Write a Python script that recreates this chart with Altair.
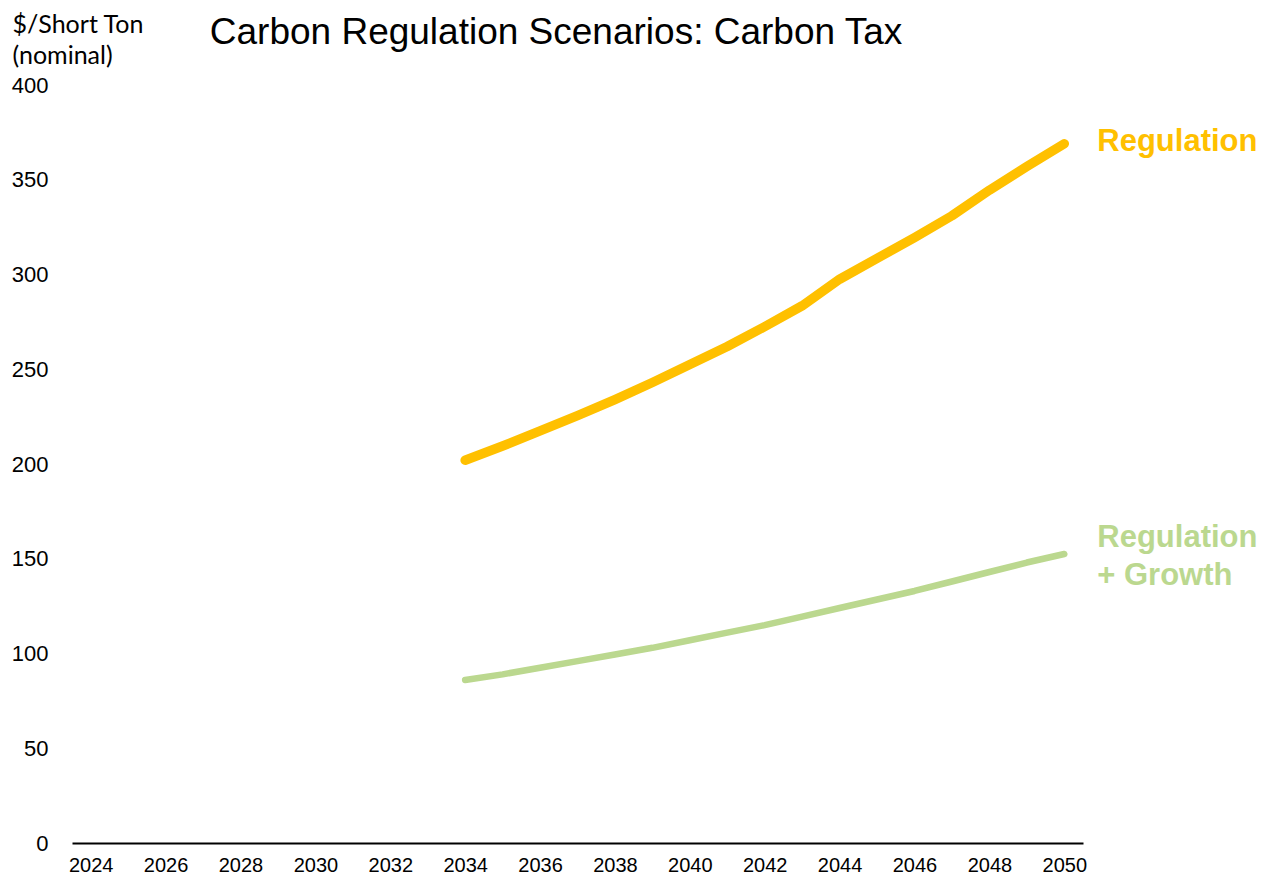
import altair as alt
import pandas as pd

years = list(range(2034, 2051))
regulation = [202, 209.5, 217.5, 225.5, 234, 243, 252.5, 262, 272.5, 283.5, 297.5, 308.5, 319.5, 331, 344.5, 357, 369]
reg_growth = [86, 89, 92.5, 96, 99.5, 103, 107, 111, 115, 119.5, 124, 128.5, 133, 138, 143, 148, 152.5]
series_names = ["Regulation", "Regulation + Growth"]
series_colors = ["#FFC000", "#BBD88F"]
tick_years = list(range(2024, 2051, 2))
y_ticks = list(range(0, 401, 50))

rows = []
for y, a, b in zip(years, regulation, reg_growth):
    rows.append({"year": y, "value": a, "series": series_names[0]})
    rows.append({"year": y, "value": b, "series": series_names[1]})
df = pd.DataFrame(rows)

x_enc = alt.X("year:Q",
              scale=alt.Scale(domain=[2023.5, 2050.5], nice=False, zero=False),
              axis=alt.Axis(values=tick_years, format="d", title=None, grid=False,
                            ticks=False, domain=True, domainColor="#000000", domainWidth=2,
                            labelFont="Liberation Sans", labelFontSize=20, labelColor="#000000",
                            labelPadding=12, labelFlush=False))
y_enc = alt.Y("value:Q",
              scale=alt.Scale(domain=[0, 400], nice=False),
              axis=alt.Axis(values=y_ticks, grid=False, ticks=False, domain=False,
                            labelFont="Liberation Sans", labelFontSize=22, labelColor="#000000",
                            labelPadding=24,
                            title=["$/Short Ton", "(nominal)"], titleAngle=0, titleAlign="left",
                            titleBaseline="top", titleX=-60, titleY=-73,
                            titleFont="Lato", titleFontSize=25, titleFontWeight="normal",
                            titleColor="#000000", titleLineHeight=31))
color_enc = alt.Color("series:N", scale=alt.Scale(domain=series_names, range=series_colors), legend=None)

base = alt.Chart(df)

line_reg = base.transform_filter(alt.datum.series == series_names[0]).mark_line(
    strokeWidth=9.5, strokeCap="round", strokeJoin="round"
).encode(x=x_enc, y=y_enc, color=color_enc)

line_grw = base.transform_filter(alt.datum.series == series_names[1]).mark_line(
    strokeWidth=6.5, strokeCap="round", strokeJoin="round"
).encode(x=x_enc, y=y_enc, color=color_enc)

lab_reg_df = pd.DataFrame([{"year": years[-1], "value": regulation[-1], "series": series_names[0],
                            "label": ["Regulation"]}])
lab_grw_df = pd.DataFrame([{"year": years[-1], "value": reg_growth[-1], "series": series_names[1],
                            "label": ["Regulation", "+ Growth"]}])
lab_reg = alt.Chart(lab_reg_df).mark_text(
    align="left", baseline="middle", dx=33, dy=-2, font="Liberation Sans",
    fontSize=31, fontWeight="bold", lineHeight=38
).encode(x=alt.X("year:Q"), y=alt.Y("value:Q"), text="label", color=color_enc)
lab_grw = alt.Chart(lab_grw_df).mark_text(
    align="left", baseline="middle", dx=33, dy=-16, font="Liberation Sans",
    fontSize=31, fontWeight="bold", lineHeight=38
).encode(x=alt.X("year:Q"), y=alt.Y("value:Q"), text="label", color=color_enc)

title_df = pd.DataFrame([{"t": "Carbon Regulation Scenarios: Carbon Tax"}])
title = alt.Chart(title_df).mark_text(
    align="center", baseline="alphabetic", font="Liberation Sans", fontSize=37, color="#000000"
).encode(x=alt.value(484), y=alt.value(-41), text="t:N")

chart = alt.layer(line_grw, line_reg, lab_reg, lab_grw, title).properties(
    width=1011, height=758,
    padding={"left": 64, "top": 77, "right": 178, "bottom": 36},
    autosize=alt.AutoSizeParams(type="none"),
    background="#ffffff",
).configure_view(stroke=None)

chart.save("out.html", embed_options={"renderer": "svg", "actions": False})
